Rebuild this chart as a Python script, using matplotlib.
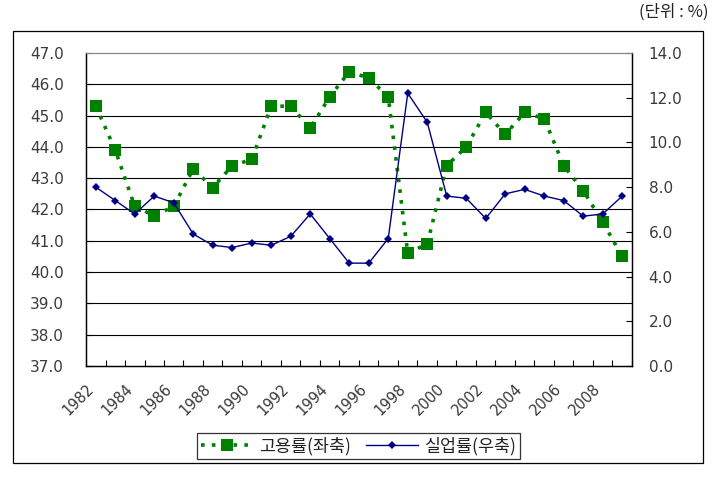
import matplotlib
matplotlib.use('Agg')
import matplotlib.pyplot as plt
from matplotlib.patches import Rectangle

plt.rcParams['font.family'] = ['DejaVu Sans', 'Noto Sans CJK KR']

years = list(range(1982, 2010))
employment = [45.3, 43.9, 42.1, 41.8, 42.1, 43.3, 42.7, 43.4, 43.6, 45.3,
              45.3, 44.6, 45.6, 46.4, 46.2, 45.6, 40.6, 40.9, 43.4, 44.0,
              45.1, 44.4, 45.1, 44.9, 43.4, 42.6, 41.6, 40.5]
unemployment = [8.0, 7.4, 6.8, 7.6, 7.3, 5.9, 5.4, 5.3, 5.5, 5.4,
                5.8, 6.8, 5.7, 4.6, 4.6, 5.7, 12.2, 10.9, 7.6, 7.5,
                6.6, 7.7, 7.9, 7.6, 7.4, 6.7, 6.8, 7.6]
left_ticks = [37, 38, 39, 40, 41, 42, 43, 44, 45, 46, 47]
right_ticks = [0, 2, 4, 6, 8, 10, 12, 14]
label_employment = '고용률(좌축)'
label_unemployment = '실업률(우축)'
unit_text = '(단위 : %)'

kr_font = ['Noto Sans CJK KR', 'DejaVu Sans']

fig = plt.figure(figsize=(7.27, 4.79), dpi=100)
ax = fig.add_axes([0.1183, 0.2359, 0.751, 0.6535])
ax2 = ax.twinx()

x = list(range(len(years)))

# grid lines on the left axis
for v in left_ticks[1:-1]:
    ax.axhline(v, color='black', lw=0.8, zorder=1)

l1, = ax.plot(x, employment, color='#008000', lw=2.6, linestyle=(0, (1.0, 2.0)),
              marker='s', markersize=8.6, markeredgewidth=0, zorder=3)
l2, = ax2.plot(x, unemployment, color='#000080', lw=1.0, marker='D',
               markersize=4.2, markeredgewidth=0, zorder=3)

ax.set_xlim(-0.5, len(years) - 0.5)
ax.set_ylim(37, 47)
ax2.set_ylim(0, 14)

ax.set_yticks(left_ticks)
ax.set_yticklabels([f'{v:.1f}' for v in left_ticks])
ax2.set_yticks(right_ticks)
ax2.set_yticklabels([f'{v:.1f}' for v in right_ticks])

# category boundaries as ticks, year labels on every other boundary
bounds = [i - 0.5 for i in range(len(years) + 1)]
ax.set_xticks(bounds)
xlabels = []
for i in range(len(bounds)):
    if i < len(years) and i % 2 == 0:
        xlabels.append(str(years[i]))
    else:
        xlabels.append('')
ax.set_xticklabels(xlabels, rotation=45, ha='right', rotation_mode='anchor')

ax.tick_params(axis='x', direction='in', length=4, width=0.8, pad=11,
               labelsize=10.5, labelcolor='#3a3a3a')
ax.tick_params(axis='y', direction='in', length=4, width=0.8, pad=16,
               labelsize=11, labelcolor='#3a3a3a')
ax2.tick_params(axis='y', direction='in', length=4.5, width=0.8, pad=12,
                labelsize=11, labelcolor='#3a3a3a')

for a in (ax, ax2):
    a.spines['left'].set_linewidth(0.9)
    a.spines['bottom'].set_linewidth(0.9)
    a.spines['right'].set_linewidth(0.9)
    a.spines['top'].set_color('#888888')
    a.spines['top'].set_linewidth(0.8)

leg = fig.legend([l1, l2], [label_employment, label_unemployment], ncol=2,
                 loc='center', bbox_to_anchor=(0.493, 0.069), frameon=True,
                 fancybox=False, edgecolor='black',
                 handlelength=3.0, handletextpad=0.35, columnspacing=0.9,
                 borderpad=0.22, borderaxespad=0,
                 prop={'family': kr_font, 'size': 12.5})
leg.get_frame().set_linewidth(0.9)
for t in leg.get_texts():
    t.set_color('#222222')

# outer chart border
fig.patches.append(Rectangle((0.0179, 0.0334), 0.9491, 0.9026, transform=fig.transFigure,
                             fill=False, edgecolor='black', lw=0.9))

fig.text(0.975, 0.975, unit_text, ha='right', va='center', fontsize=12,
         color='#222222', family=kr_font)

fig.savefig('out.png', dpi=100)
